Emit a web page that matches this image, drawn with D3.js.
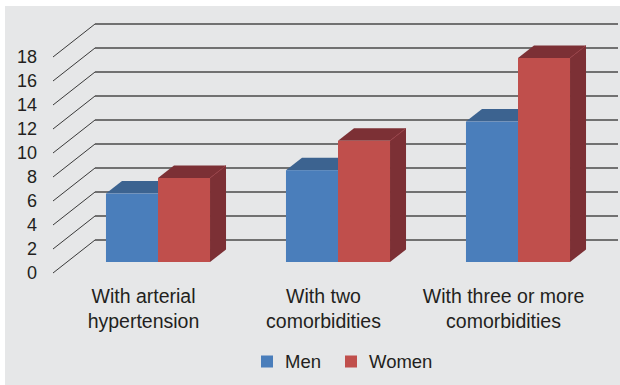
<!DOCTYPE html>
<html>
<head>
<meta charset="utf-8">
<script src="https://cdn.jsdelivr.net/npm/d3@7"></script>
<style>
  html, body { margin: 0; padding: 0; background: #ffffff; }
  svg { display: block; }
  text { font-family: "Liberation Sans", Arial, sans-serif; fill: #231f20; }
</style>
</head>
<body>
<svg id="chart" width="620" height="385"></svg>
<script>
const categories = [["With arterial", "hypertension"], ["With two", "comorbidities"], ["With three or more", "comorbidities"]];
const seriesNames = ["Men", "Women"];
const menValues = [5.7, 7.65, 11.7];
const womenValues = [7.0, 10.1, 17.0];
const yTicks = [0, 2, 4, 6, 8, 10, 12, 14, 16, 18];

const colors = {
  Men: { front: "#4a7ebb", top: "#3c6390", side: "#2f4f77" },
  Women: { front: "#c04f4c", top: "#7c3035", side: "#7c3035" }
};

const svg = d3.select("#chart");
svg.append("rect").attr("x", 5).attr("y", 6).attr("width", 615).attr("height", 379).attr("fill", "#e6e7e8");

// oblique 3D geometry
const wallDX = 42, wallDY = -33;      // front plane -> back wall
const barDX = 15, barDY = -11;        // front plane -> bar front face
const barDepthDX = 16, barDepthDY = -12.5; // bar front -> bar back

const y = d3.scaleLinear().domain([0, 18]).range([273, 57]);
const x0 = d3.scaleBand().domain(d3.range(categories.length)).range([53, 593]).paddingInner(0.422).paddingOuter(0.211);
const x1 = d3.scaleBand().domain(seriesNames).range([0, x0.bandwidth()]);

// gridlines: diagonals + back wall lines
const grid = svg.append("g");
yTicks.forEach(t => {
  grid.append("line")
    .attr("x1", 53).attr("y1", y(t)).attr("x2", 53 + wallDX).attr("y2", y(t) + wallDY)
    .attr("stroke", "#3a3a3a").attr("stroke-width", 1);
  grid.append("line")
    .attr("x1", 53 + wallDX).attr("y1", y(t) + wallDY).attr("x2", 618).attr("y2", y(t) + wallDY)
    .attr("stroke", "#4a4a4a").attr("stroke-width", 1.5);
});

// y labels
svg.append("g").selectAll("text").data(yTicks).join("text")
  .attr("x", 37).attr("y", d => y(d)).attr("dy", "0.36em")
  .attr("text-anchor", "end").style("font-size", "18px")
  .text(d => d);

// bars
const data = categories.map((c, i) => ({ i, values: [{ s: "Men", v: menValues[i] }, { s: "Women", v: womenValues[i] }] }));
const bars = svg.append("g");
data.forEach(g => {
  g.values.forEach(d => {
    const xl = x0(g.i) + x1(d.s) + barDX;
    const xr = xl + x1.bandwidth();
    const yb = y(0) + barDY;
    const yt = y(d.v) + barDY;
    const c = colors[d.s];
    // side face
    bars.append("path")
      .attr("d", `M${xr},${yt}L${xr + barDepthDX},${yt + barDepthDY}L${xr + barDepthDX},${yb + barDepthDY}L${xr},${yb}Z`)
      .attr("fill", c.side);
    // top face
    bars.append("path")
      .attr("d", `M${xl},${yt}L${xl + barDepthDX},${yt + barDepthDY}L${xr + barDepthDX},${yt + barDepthDY}L${xr},${yt}Z`)
      .attr("fill", c.top);
    // edge highlight
    bars.append("line")
      .attr("x1", xr).attr("y1", yt).attr("x2", xr + barDepthDX).attr("y2", yt + barDepthDY)
      .attr("stroke", d3.color(c.side).brighter(0.6)).attr("stroke-width", 0.8);
    // front face
    bars.append("rect")
      .attr("x", xl).attr("y", yt).attr("width", x1.bandwidth()).attr("height", yb - yt)
      .attr("fill", c.front);
  });
});

// category labels
const catG = svg.append("g");
categories.forEach((lines, i) => {
  const cx = x0(i) + x0.bandwidth() / 2 + 0.5;
  const t = catG.append("text").attr("text-anchor", "middle").style("font-size", "19.5px");
  lines.forEach((l, k) => {
    t.append("tspan").attr("x", cx).attr("y", 303 + k * 25).text(l);
  });
});

// legend
const legend = svg.append("g");
const legendX = [261, 345];
seriesNames.forEach((s, k) => {
  legend.append("rect").attr("x", legendX[k]).attr("y", 355.5).attr("width", 12).attr("height", 12)
    .attr("fill", colors[s].front);
  legend.append("text").attr("x", legendX[k] + 24).attr("y", 367.5)
    .style("font-size", "18.5px").text(s);
});
</script>
</body>
</html>
